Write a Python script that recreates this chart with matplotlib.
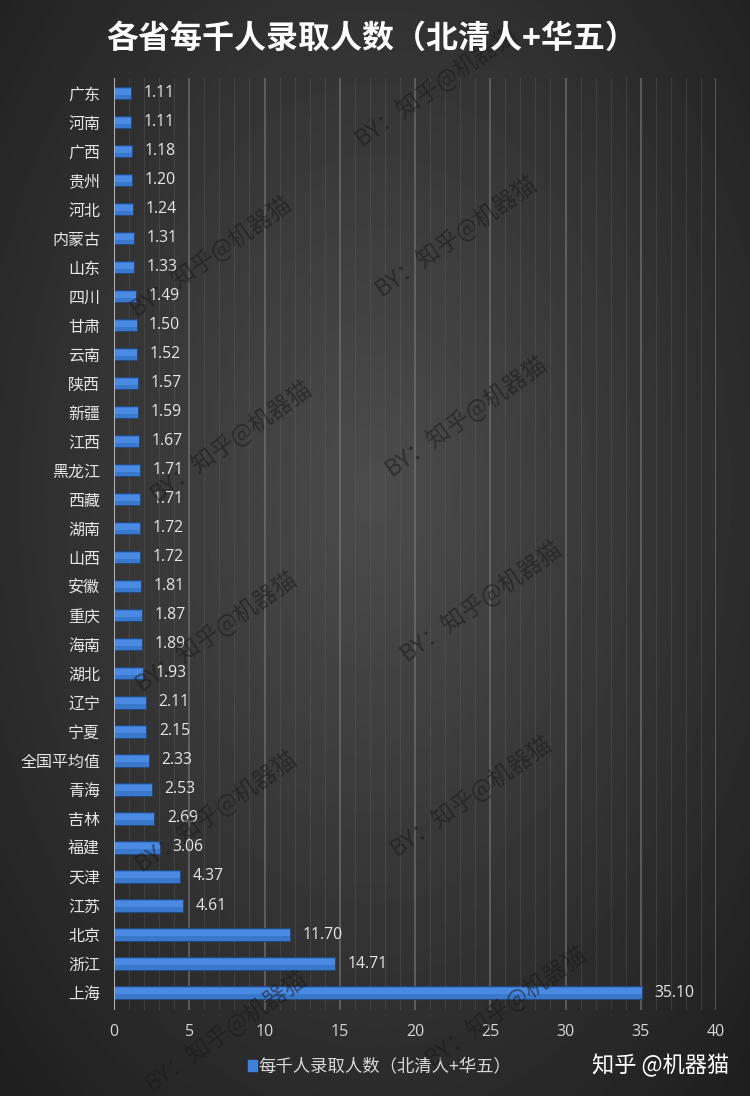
from matplotlib import pyplot as plt
import numpy as np

plt.rcParams['font.family'] = ['Noto Sans CJK SC', 'DejaVu Sans']

# data, top to bottom as in the chart
provinces = ['广东', '河南', '广西', '贵州', '河北', '内蒙古', '山东', '四川', '甘肃', '云南',
             '陕西', '新疆', '江西', '黑龙江', '西藏', '湖南', '山西', '安徽', '重庆', '海南',
             '湖北', '辽宁', '宁夏', '全国平均值', '青海', '吉林', '福建', '天津', '江苏', '北京',
             '浙江', '上海']
values = [1.11, 1.11, 1.18, 1.20, 1.24, 1.31, 1.33, 1.49, 1.50, 1.52,
          1.57, 1.59, 1.67, 1.71, 1.71, 1.72, 1.72, 1.81, 1.87, 1.89,
          1.93, 2.11, 2.15, 2.33, 2.53, 2.69, 3.06, 4.37, 4.61, 11.70,
          14.71, 35.10]
x_ticks = [0, 5, 10, 15, 20, 25, 30, 35, 40]
title = '各省每千人录取人数（北清人+华五）'
series_name = '每千人录取人数（北清人+华五）'

fig = plt.figure(figsize=(7.5, 10.96), dpi=100)

# radial dark background
bg = fig.add_axes([0, 0, 1, 1], zorder=-10)
yy, xx = np.mgrid[0:1:400j, 0:1:300j]
r = np.sqrt(((xx - 0.5) / 0.75) ** 2 + ((yy - 0.45) / 0.8) ** 2)
shade = np.clip(0.30 - 0.19 * r, 0.11, 0.30)
bg.imshow(shade, cmap='gray', vmin=0, vmax=1, aspect='auto', extent=[0, 1, 0, 1])
bg.axis('off')

ax = fig.add_axes([0.152, 0.0785, 0.8027, 0.8503])
ax.set_facecolor('none')
ypos = np.arange(len(provinces))

# grid: minor every 1, major every 5
for v in range(1, 41):
    if v % 5 == 0:
        ax.axvline(v, color='#7a7a7a', lw=1.2, alpha=0.7, zorder=0)
    else:
        ax.axvline(v, color='#6a6a6a', lw=0.8, alpha=0.3, zorder=0)
ax.axvline(0, color='#b0b0b0', lw=1.5, zorder=3)

ax.barh(ypos, values, height=0.42, color='#3a78cc', edgecolor='#22487e', lw=0.7, zorder=2)
ax.barh(ypos - 0.04, values, height=0.2, color='#4a8ae2', lw=0, zorder=2.5)

for y, v in zip(ypos, values):
    ax.annotate('%.2f' % v, (v, y), xytext=(9, 0), textcoords='offset points',
                va='center', ha='left', color='#e6e6e6', fontsize=11.3, family='Open Sans')

ax.set_xlim(0, 40)
ax.set_ylim(31.6, -0.52)
ax.set_xticks(x_ticks)
ax.set_xticklabels([str(t) for t in x_ticks], family='Open Sans')
ax.set_yticks(ypos)
ax.set_yticklabels(provinces)
ax.tick_params(axis='x', length=0, pad=10, labelsize=11.5, colors='#d6d6d6')
ax.tick_params(axis='y', length=0, pad=10, labelsize=11.5, colors='#e6e6e6')
for s in ax.spines.values():
    s.set_visible(False)

fig.text(0.495, 0.965, title, ha='center', va='center', color='white',
         fontsize=23, fontweight='bold', zorder=30)

# legend
fig.patches.append(plt.Rectangle((0.331, 0.0225), 0.011, 0.0105, transform=fig.transFigure,
                                 color='#3f80d8', figure=fig))
fig.text(0.345, 0.027, series_name, ha='left', va='center', color='#d9d9d9', fontsize=12.5)

fig.text(0.973, 0.028, '知乎 @机器猫', ha='right', va='center', color='white', fontsize=16)

# watermarks
marks = [(210, 255), (455, 235), (435, 85), (230, 440), (465, 415), (215, 630),
         (480, 600), (215, 810), (470, 795), (225, 1030), (505, 1005)]
for px, py in marks:
    fig.text(px / 750, 1 - py / 1096, 'BY：知乎@机器猫', ha='center', va='center',
             rotation=35, color='#1a1a1a', alpha=0.55, fontsize=17, zorder=20)

fig.savefig('out.png', dpi=100, facecolor='#2a2a2a')
